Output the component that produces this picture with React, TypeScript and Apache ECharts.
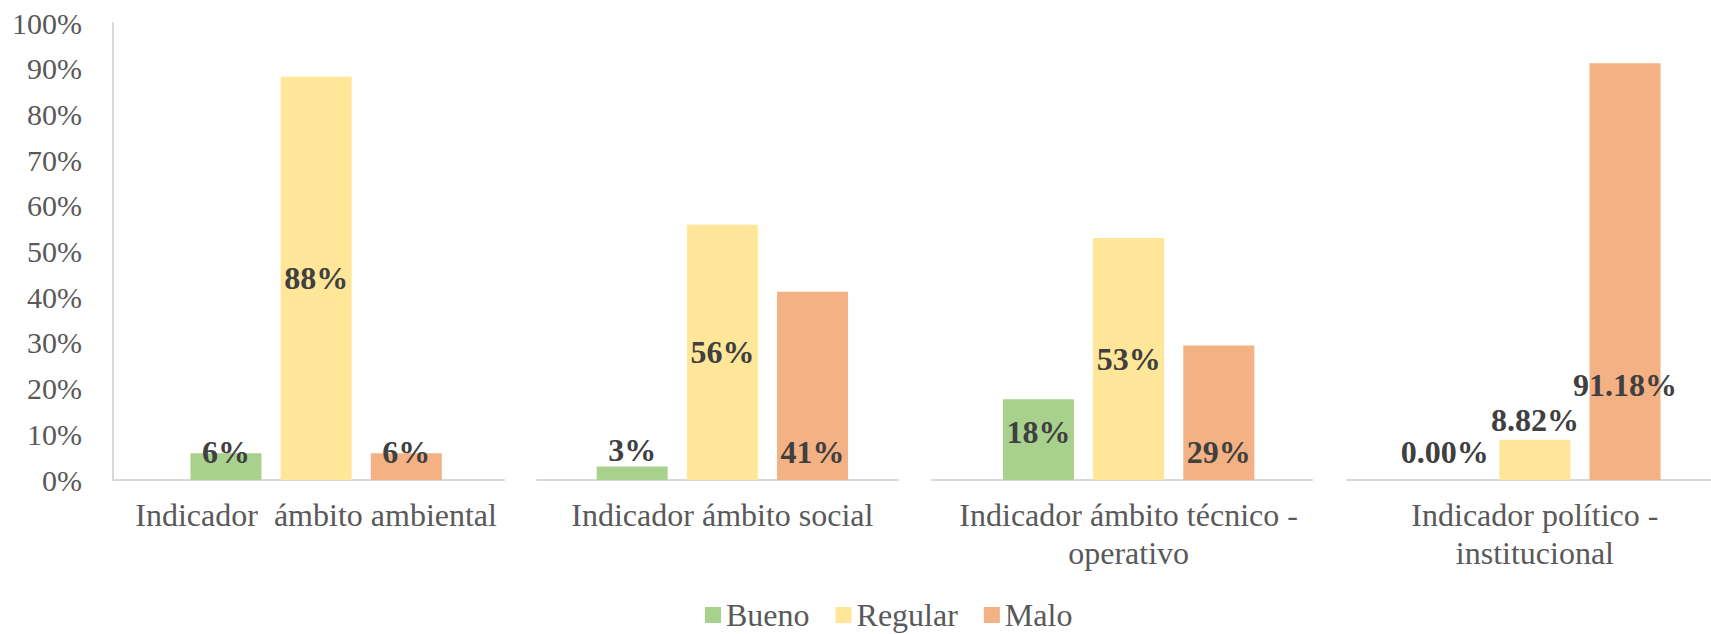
import React, { useEffect, useRef } from "react";
import * as echarts from "echarts";

const categories = [
  "Indicador  ámbito ambiental",
  "Indicador ámbito social",
  "Indicador ámbito técnico -\noperativo",
  "Indicador político -\ninstitucional",
];
const seriesNames = ["Bueno", "Regular", "Malo"];
const bueno = [0.0588, 0.0294, 0.1765, 0.0];
const regular = [0.8824, 0.5588, 0.5294, 0.0882];
const malo = [0.0588, 0.4118, 0.2941, 0.9118];
const labelDecimals = [0, 0, 0, 2];
const yTicks = [0, 0.1, 0.2, 0.3, 0.4, 0.5, 0.6, 0.7, 0.8, 0.9, 1.0];

// styling / placement (not data)
const colors = ["#A9D18E", "#FFE699", "#F4B183"];
// label placement per series per category: "inside" or a distance above bar base
const labelPlacement: (number | "inside")[][] = [
  [12, 14, 32, 12],
  ["inside", "inside", "inside", 44],
  [12, 12, 12, 79],
];
// broken axis-line segments [left, rightEdge]
const axisSegments = [
  [113, 504],
  [537, 898],
  [932, 1312],
  [1347, 1738],
];
const W = 1711;
const H = 634;
const PLOT_LEFT = 113;
const PLOT_RIGHT_EDGE = 1738;
const FONT = '"Liberation Serif", "Times New Roman", serif';

export default function App() {
  const ref = useRef<HTMLDivElement>(null);
  useEffect(() => {
    if (!ref.current) return;
    const chart = echarts.init(ref.current, undefined, { renderer: "svg" });
    const allValues = [bueno, regular, malo];
    const axisLineStyle = { color: "#D9D9D9", width: 2 };
    const grids: any[] = [
      {
        left: PLOT_LEFT,
        right: W - PLOT_RIGHT_EDGE,
        top: 23,
        bottom: 154,
        containLabel: false,
        outerBoundsMode: "none",
      },
      ...axisSegments.map(([l, r]) => ({
        left: l,
        width: r - l,
        top: 23,
        bottom: 154,
        containLabel: false,
        outerBoundsMode: "none",
      })),
    ];
    const xAxes: any[] = [
      {
        type: "category",
        gridIndex: 0,
        data: categories,
        axisLine: { show: false },
        axisTick: { show: false },
        axisLabel: {
          fontFamily: FONT,
          fontSize: 32,
          lineHeight: 38,
          color: "#595959",
          margin: 16,
          interval: 0,
        },
      },
      ...axisSegments.map((_, i) => ({
        type: "category",
        gridIndex: i + 1,
        data: [""],
        axisLine: { show: true, lineStyle: axisLineStyle },
        axisTick: { show: false },
        axisLabel: { show: false },
      })),
    ];
    const yAxes: any[] = [
      {
        type: "value",
        gridIndex: 0,
        min: 0,
        max: 1,
        interval: 0.1,
        axisLine: { show: true, lineStyle: axisLineStyle },
        axisTick: { show: false },
        splitLine: { show: false },
        axisLabel: {
          fontFamily: FONT,
          fontSize: 30,
          color: "#595959",
          margin: 31,
          formatter: (v: number) =>
            yTicks.some((t) => Math.abs(t - v) < 1e-9) ? `${Math.round(v * 100)}%` : "",
        },
      },
      ...axisSegments.map((_, i) => ({
        type: "value",
        gridIndex: i + 1,
        min: 0,
        max: 1,
        show: false,
      })),
    ];
    const series: any[] = seriesNames.map((name, si) => ({
      type: "bar",
      name,
      xAxisIndex: 0,
      yAxisIndex: 0,
      barWidth: 71,
      barGap: "27%",
      itemStyle: { color: colors[si] },
      data: allValues[si].map((v, ci) => {
        const place = labelPlacement[si][ci];
        const labelText = `${(v * 100).toFixed(labelDecimals[ci])}%`;
        return {
          value: v,
          label: {
            show: true,
            formatter: () => labelText,
            position: place === "inside" ? "inside" : "insideBottom",
            distance: place === "inside" ? 0 : place,
            fontFamily: FONT,
            fontSize: 32,
            lineHeight: 32,
            fontWeight: "bold",
            color: "#404040",
          },
        };
      }),
    }));
    chart.setOption({
      animation: false,
      backgroundColor: "#ffffff",
      grid: grids,
      xAxis: xAxes,
      yAxis: yAxes,
      legend: {
        data: seriesNames,
        left: 700,
        top: 594,
        icon: "rect",
        itemWidth: 16,
        itemHeight: 16,
        itemGap: 26,
        textStyle: {
          fontFamily: FONT,
          fontSize: 32,
          lineHeight: 32,
          color: "#595959",
        },
      },
      series,
    });
    return () => chart.dispose();
  }, []);
  return (
    <div
      ref={ref}
      style={{ position: "absolute", left: 0, top: 0, width: W, height: H }}
    />
  );
}
